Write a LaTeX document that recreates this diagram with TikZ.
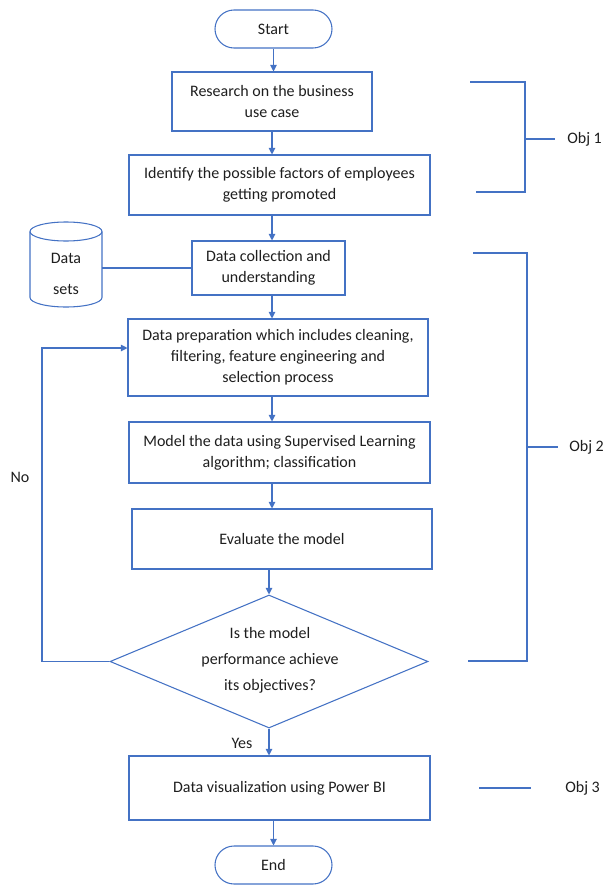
\documentclass[tikz,border=0pt]{standalone}
\usepackage{fontspec}
\setmainfont{Carlito}
\usetikzlibrary{shapes.geometric,shapes.misc,arrows.meta}
\definecolor{lblue}{HTML}{4472C4}
\definecolor{txt}{HTML}{1E1E1E}
\begin{document}
\begin{tikzpicture}[x=0.75pt,y=-0.75pt,
  every node/.style={font=\fontsize{12}{15.75}\selectfont, text=txt},
  box/.style={draw=lblue, line width=0.8pt, align=center, inner sep=0pt},
  term/.style={box, rounded rectangle, minimum width=87.75pt, minimum height=28.5pt},
  arr/.style={draw=lblue, line width=0.8pt, -{Triangle[length=5pt,width=5pt]}},
  ln/.style={draw=lblue, line width=0.8pt},
  lbl/.style={anchor=west, inner sep=0pt},
]
\useasboundingbox (0,0) rectangle (605,885);
\coordinate (ax) at (272,0);
\node[term] (start) at (273.5,29) {Start};
\node[box, minimum width=150pt, minimum height=44.25pt] (research) at (272,101.5) {Research on the business\\use case};
\node[box, minimum width=225.75pt, minimum height=45pt] (identify) at (279.5,185) {Identify the possible factors of employees\\getting promoted};
\node[box, minimum width=114.75pt, minimum height=40.5pt] (collect) at (268.5,268) {Data collection and\\understanding};
\node[box, minimum width=225pt, minimum height=57.75pt] (prep) at (278,357.5) {Data preparation which includes cleaning,\\filtering, feature engineering and\\selection process};
\node[box, minimum width=225.75pt, minimum height=45.75pt] (model) at (279.5,452.5) {Model the data using Supervised Learning\\algorithm; classification};
\node[box, minimum width=225pt, minimum height=45pt] (eval) at (282,539) {Evaluate the model};
\node[box, diamond, minimum width=238.5pt, minimum height=99.75pt] (dec) at (269,661.5) {};
\node[align=center, font=\fontsize{12}{19.5}\selectfont] (dectext) at (270,660) {Is the model\\performance achieve\\its objectives?};
\node[box, minimum width=225.75pt, minimum height=48pt] (viz) at (279.5,788) {Data visualization using Power BI};
\node[term] (end) at (273.5,865) {End};

% data sets cylinder
\draw[ln] (30,231.5) -- (30,297.5) arc[start angle=180, end angle=0, x radius=36, y radius=9.5] -- (102,231.5);
\draw[ln] (66,231.5) ellipse [x radius=36, y radius=9.5];
\coordinate (dataR) at (102,268);
\node[align=center, font=\fontsize{12}{23.25}\selectfont] (datatext) at (66,273.5) {Data\\sets};

\node (yes) at (242,743) {Yes};
\node (no) at (20,477) {No};

\draw[arr] (start.south) -- (start.south |- research.north);
\draw[arr] (research.south) -- (research.south |- identify.north);
\draw[arr] (ax |- identify.south) -- (ax |- collect.north);
\draw[arr] (ax |- collect.south) -- (ax |- prep.north);
\draw[arr] (ax |- prep.south) -- (ax |- model.north);
\draw[arr] (ax |- model.south) -- (ax |- eval.north);
\draw[arr] (dec.north |- eval.south) -- (dec.north);
\draw[arr] (dec.south) -- (dec.south |- viz.north);
\draw[arr] (end.north |- viz.south) -- (end.north);
\draw[ln] (dataR |- collect.west) -- (collect.west);

\coordinate (nl) at (42,348);
\draw[arr] (dec.west) -- (dec.west -| nl) -- (nl) -- (nl -| prep.west);

\draw[ln] (470,82) -- (525,82) -- (525,192) -- (476,192);
\draw[ln] (525,139) -- (555,139);
\node[lbl] (obj1) at (567,139) {Obj 1};
\draw[ln] (473,253) -- (527,253) -- (527,661) -- (468,661);
\draw[ln] (527,447) -- (558,447);
\node[lbl] (obj2) at (569,447) {Obj 2};
\draw[ln] (479,788) -- (531,788);
\node[lbl] (obj3) at (565,788) {Obj 3};
\end{tikzpicture}
\end{document}
